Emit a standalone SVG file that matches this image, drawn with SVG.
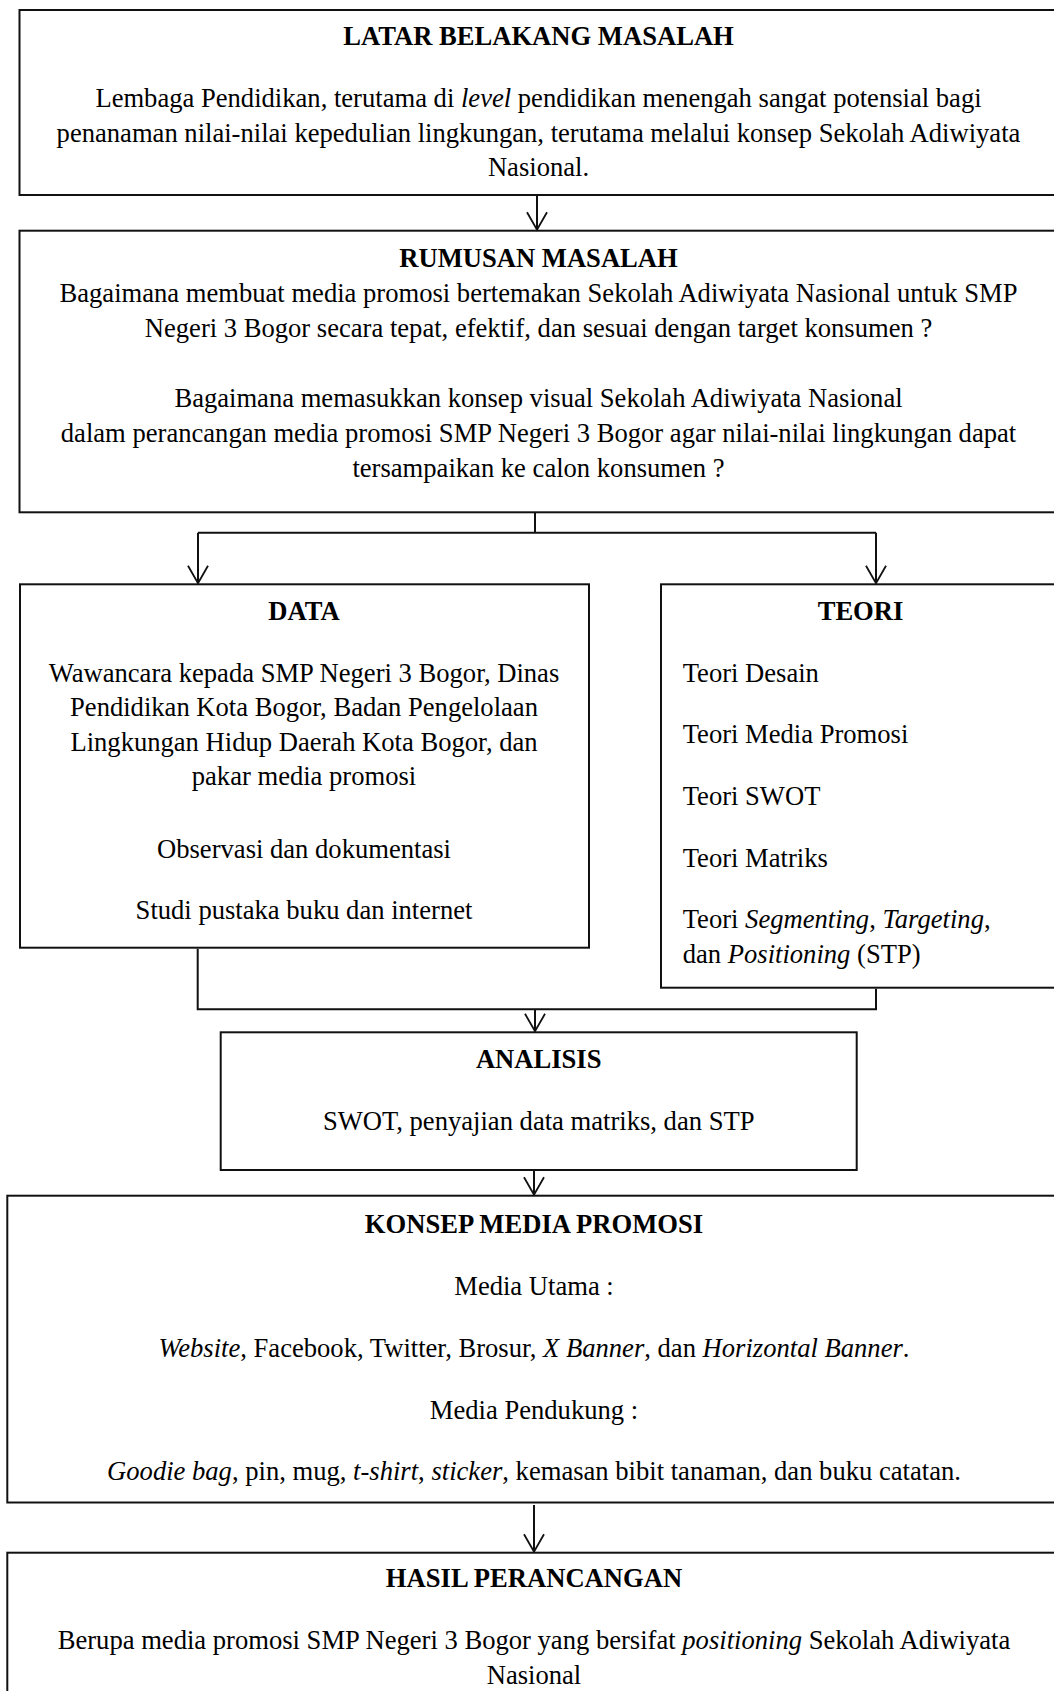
<svg xmlns="http://www.w3.org/2000/svg" width="1054" height="1691" viewBox="0 0 1054 1691">
<defs>
<style>
text{font-family:"Liberation Serif","Times New Roman",serif;font-size:26.6px;fill:#000}
.c{text-anchor:middle}
.b{font-weight:bold}
.i{font-style:italic}
.box{fill:#fff;stroke:#111;stroke-width:2}
.ln{fill:none;stroke:#111;stroke-width:2}
</style>
<marker id="ah" viewBox="0 0 20 22" refX="18.5" refY="11" markerWidth="20" markerHeight="22" markerUnits="userSpaceOnUse" orient="auto" overflow="visible">
<path d="M1,1 L18.5,11 L1,21" fill="none" stroke="#111" stroke-width="1.8"/>
</marker>
</defs>
<rect width="1054" height="1691" fill="#fff"/>

<g id="latar">
<rect class="box" x="19.5" y="10" width="1040" height="185"/>
<text class="c b" x="538.5" y="45">LATAR BELAKANG MASALAH</text>
<text class="c" x="538.5" y="107">Lembaga Pendidikan, terutama di <tspan class="i">level</tspan> pendidikan menengah sangat potensial bagi</text>
<text class="c" x="538.5" y="141.5">penanaman nilai-nilai kepedulian lingkungan, terutama melalui konsep Sekolah Adiwiyata</text>
<text class="c" x="538.5" y="176">Nasional.</text>
</g>

<g id="rumusan">
<rect class="box" x="19.5" y="230.7" width="1040" height="281.6"/>
<text class="c b" x="538.5" y="266.7">RUMUSAN MASALAH</text>
<text class="c" x="538.5" y="301.7">Bagaimana membuat media promosi bertemakan Sekolah Adiwiyata Nasional untuk SMP</text>
<text class="c" x="538.5" y="336.5">Negeri 3 Bogor secara tepat, efektif, dan sesuai dengan target konsumen ?</text>
<text class="c" x="538.5" y="407">Bagaimana memasukkan konsep visual Sekolah Adiwiyata Nasional</text>
<text class="c" x="538.5" y="442">dalam perancangan media promosi SMP Negeri 3 Bogor agar nilai-nilai lingkungan dapat</text>
<text class="c" x="538.5" y="477">tersampaikan ke calon konsumen ?</text>
</g>

<g id="data">
<rect class="box" x="20" y="584.3" width="569" height="363.4"/>
<text class="c b" x="304" y="620">DATA</text>
<text class="c" x="304" y="681.7">Wawancara kepada SMP Negeri 3 Bogor, Dinas</text>
<text class="c" x="304" y="716.3">Pendidikan Kota Bogor, Badan Pengelolaan</text>
<text class="c" x="304" y="750.8">Lingkungan Hidup Daerah Kota Bogor, dan</text>
<text class="c" x="304" y="785.3">pakar media promosi</text>
<text class="c" x="304" y="857.5">Observasi dan dokumentasi</text>
<text class="c" x="304" y="919">Studi pustaka buku dan internet</text>
</g>

<g id="teori">
<rect class="box" x="661" y="584.3" width="400" height="403.4"/>
<text class="c b" x="860.5" y="620">TEORI</text>
<text x="682.7" y="681.7">Teori Desain</text>
<text x="682.7" y="743.3">Teori Media Promosi</text>
<text x="682.7" y="805">Teori SWOT</text>
<text x="682.7" y="866.7">Teori Matriks</text>
<text x="682.7" y="928.3">Teori <tspan class="i">Segmenting</tspan>, <tspan class="i">Targeting</tspan>,</text>
<text x="682.7" y="963">dan <tspan class="i">Positioning</tspan> (STP)</text>
</g>

<g id="analisis">
<rect class="box" x="220.7" y="1032.3" width="636" height="137.7"/>
<text class="c b" x="538.7" y="1068">ANALISIS</text>
<text class="c" x="538.7" y="1130">SWOT, penyajian data matriks, dan STP</text>
</g>

<g id="konsep">
<rect class="box" x="7.3" y="1195.7" width="1054" height="306.8"/>
<text class="c b" x="534" y="1233">KONSEP MEDIA PROMOSI</text>
<text class="c" x="534" y="1294.5">Media Utama :</text>
<text class="c" x="534" y="1356.5"><tspan class="i">Website</tspan>, Facebook, Twitter, Brosur, <tspan class="i">X Banner</tspan>, dan <tspan class="i">Horizontal Banner</tspan>.</text>
<text class="c" x="534" y="1418.5">Media Pendukung :</text>
<text class="c" x="534" y="1480"><tspan class="i">Goodie bag</tspan>, pin, mug, <tspan class="i">t-shirt</tspan>, <tspan class="i">sticker</tspan>, kemasan bibit tanaman, dan buku catatan.</text>
</g>

<g id="hasil">
<rect class="box" x="7.3" y="1552.7" width="1054" height="160"/>
<text class="c b" x="534" y="1587">HASIL PERANCANGAN</text>
<text class="c" x="534" y="1649">Berupa media promosi SMP Negeri 3 Bogor yang bersifat <tspan class="i">positioning</tspan> Sekolah Adiwiyata</text>
<text class="c" x="534" y="1683.5">Nasional</text>
</g>

<g id="connectors">
<path class="ln" d="M537,196 V229.7" marker-end="url(#ah)"/>
<path class="ln" d="M535,513 V532.7 M198,532.7 H876"/>
<path class="ln" d="M198,532.7 V583.3" marker-end="url(#ah)"/>
<path class="ln" d="M876,532.7 V583.3" marker-end="url(#ah)"/>
<path class="ln" d="M197.7,948.7 V1009.3 H876 V988.7"/>
<path class="ln" d="M535,1009.3 V1031.3" marker-end="url(#ah)"/>
<path class="ln" d="M534,1171 V1194.7" marker-end="url(#ah)"/>
<path class="ln" d="M534,1505 V1551.7" marker-end="url(#ah)"/>
</g>
</svg>
